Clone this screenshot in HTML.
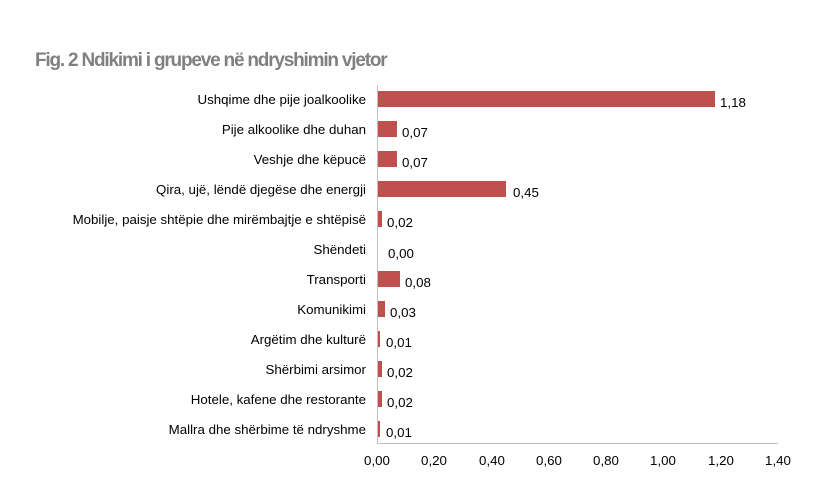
<!DOCTYPE html>
<html><head><meta charset="utf-8"><style>
body{margin:0;background:#fff;}
svg text{font-family:"Liberation Sans",Arial,sans-serif;}
</style></head><body>
<svg width="833" height="488" xmlns="http://www.w3.org/2000/svg">
<text x="35" y="66" font-size="19" font-weight="bold" fill="#808080" letter-spacing="-1.2">Fig. 2 Ndikimi i grupeve në ndryshimin vjetor</text>
<g font-size="13.3" fill="#000">
<g text-anchor="end">
<text x="366" y="104">Ushqime dhe pije joalkoolike</text>
<text x="366" y="134">Pije alkoolike dhe duhan</text>
<text x="366" y="164">Veshje dhe këpucë</text>
<text x="366" y="194">Qira, ujë, lëndë djegëse dhe energji</text>
<text x="366" y="224">Mobilje, paisje shtëpie dhe mirëmbajtje e shtëpisë</text>
<text x="366" y="254">Shëndeti</text>
<text x="366" y="284">Transporti</text>
<text x="366" y="314">Komunikimi</text>
<text x="366" y="344">Argëtim dhe kulturë</text>
<text x="366" y="374">Shërbimi arsimor</text>
<text x="366" y="404">Hotele, kafene dhe restorante</text>
<text x="366" y="434">Mallra dhe shërbime të ndryshme</text>
</g>
<g fill="#c0504d">
<rect x="377" y="91" width="338" height="16"/>
<rect x="377" y="121" width="20" height="16"/>
<rect x="377" y="151" width="20" height="16"/>
<rect x="377" y="181" width="129" height="16"/>
<rect x="377" y="211" width="5" height="16"/>
<rect x="377" y="271" width="23" height="16"/>
<rect x="377" y="301" width="8" height="16"/>
<rect x="377" y="331" width="3" height="16"/>
<rect x="377" y="361" width="5" height="16"/>
<rect x="377" y="391" width="5" height="16"/>
<rect x="377" y="421" width="3" height="16"/>
</g>
<text x="720" y="107">1,18</text>
<text x="402" y="137">0,07</text>
<text x="402" y="167">0,07</text>
<text x="513" y="197">0,45</text>
<text x="387" y="227">0,02</text>
<text x="388" y="258">0,00</text>
<text x="405" y="287">0,08</text>
<text x="390" y="317">0,03</text>
<text x="386" y="347">0,01</text>
<text x="387" y="377">0,02</text>
<text x="387" y="407">0,02</text>
<text x="386" y="437">0,01</text>
</g>
<line x1="377.5" y1="85" x2="377.5" y2="443" stroke="#bfbfbf" stroke-width="1"/>
<line x1="377" y1="443.5" x2="778" y2="443.5" stroke="#bfbfbf" stroke-width="1"/>
<g font-size="13.3" text-anchor="middle" fill="#000">
<text x="377" y="465">0,00</text>
<text x="434" y="465">0,20</text>
<text x="492" y="465">0,40</text>
<text x="549" y="465">0,60</text>
<text x="606" y="465">0,80</text>
<text x="663" y="465">1,00</text>
<text x="721" y="465">1,20</text>
<text x="778" y="465">1,40</text>
</g>
</svg>
</body></html>
